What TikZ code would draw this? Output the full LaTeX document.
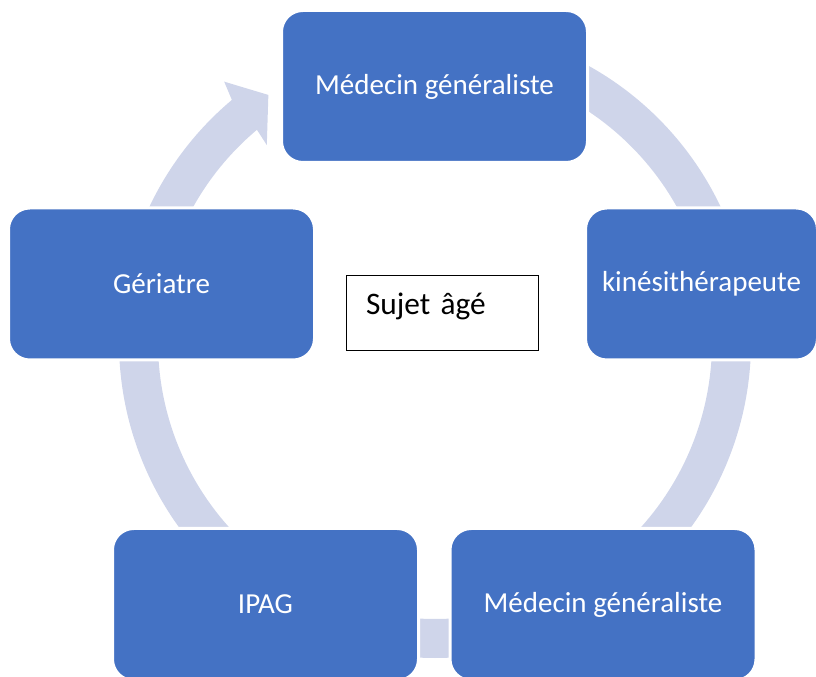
\documentclass[tikz,border=0pt]{standalone}
\usepackage{fontspec}
\setmainfont{Carlito}
\usetikzlibrary{calc}
\definecolor{boxblue}{HTML}{4472C4}
\definecolor{ringgray}{HTML}{CFD5EA}

\begin{document}
\begin{tikzpicture}[x=0.75pt,y=0.75pt,
  box/.style={draw=white,line width=2.25pt,fill=boxblue,rounded corners=16pt,
    text=white,font=\fontsize{21.75}{26}\selectfont,inner sep=0pt,
    minimum width=229.5pt,minimum height=114pt},
  ring/.style={draw=ringgray,line width=29.25pt}]
\useasboundingbox (0,0) rectangle (816,677);
\coordinate (C) at (435,335);

% arcs of the cycle
\draw[ring] ($(C)+(65:296.5)$) arc[start angle=65,end angle=20,radius=296.5];
\draw[ring] ($(C)+(0:296.5)$) arc[start angle=0,end angle=-45,radius=296.5];
\draw[ring] ($(C)+(-80:296.5)$) arc[start angle=-80,end angle=-100,radius=296.5];
\draw[ring] ($(C)+(-135:296.5)$) arc[start angle=-135,end angle=-180,radius=296.5];
\fill[ringgray] ($(C)+(160:316)$) arc[start angle=160,end angle=130,radius=316]
  -- ($(C)+(129:335)$) -- ($(C)+(124:298)$) -- ($(C)+(130.5:259)$)
  -- ($(C)+(130:277)$) arc[start angle=130,end angle=160,radius=277] -- cycle;

% boxes
\node[box] (med1) at (434.5,590.5) {Médecin généraliste};
\node[box,minimum width=174pt] (kine) at (701.5,393) {kinésithérapeute};
\node[box] (med2) at (603,72.5) {Médecin généraliste};
\node[box] (ipag) at (265.5,72.5) {IPAG};
\node[box] (geri) at (161.5,393) {Gériatre};

\node[draw=black,line width=0.75pt,fill=white,inner xsep=15pt,inner ysep=0pt,
  text width=114pt,align=left,text height=17pt,text depth=14.75pt,
  minimum height=56.25pt,font=\fontsize{23.5}{28}\selectfont] (sujet) at (442,363.5) {Sujet âgé};
\end{tikzpicture}
\end{document}
